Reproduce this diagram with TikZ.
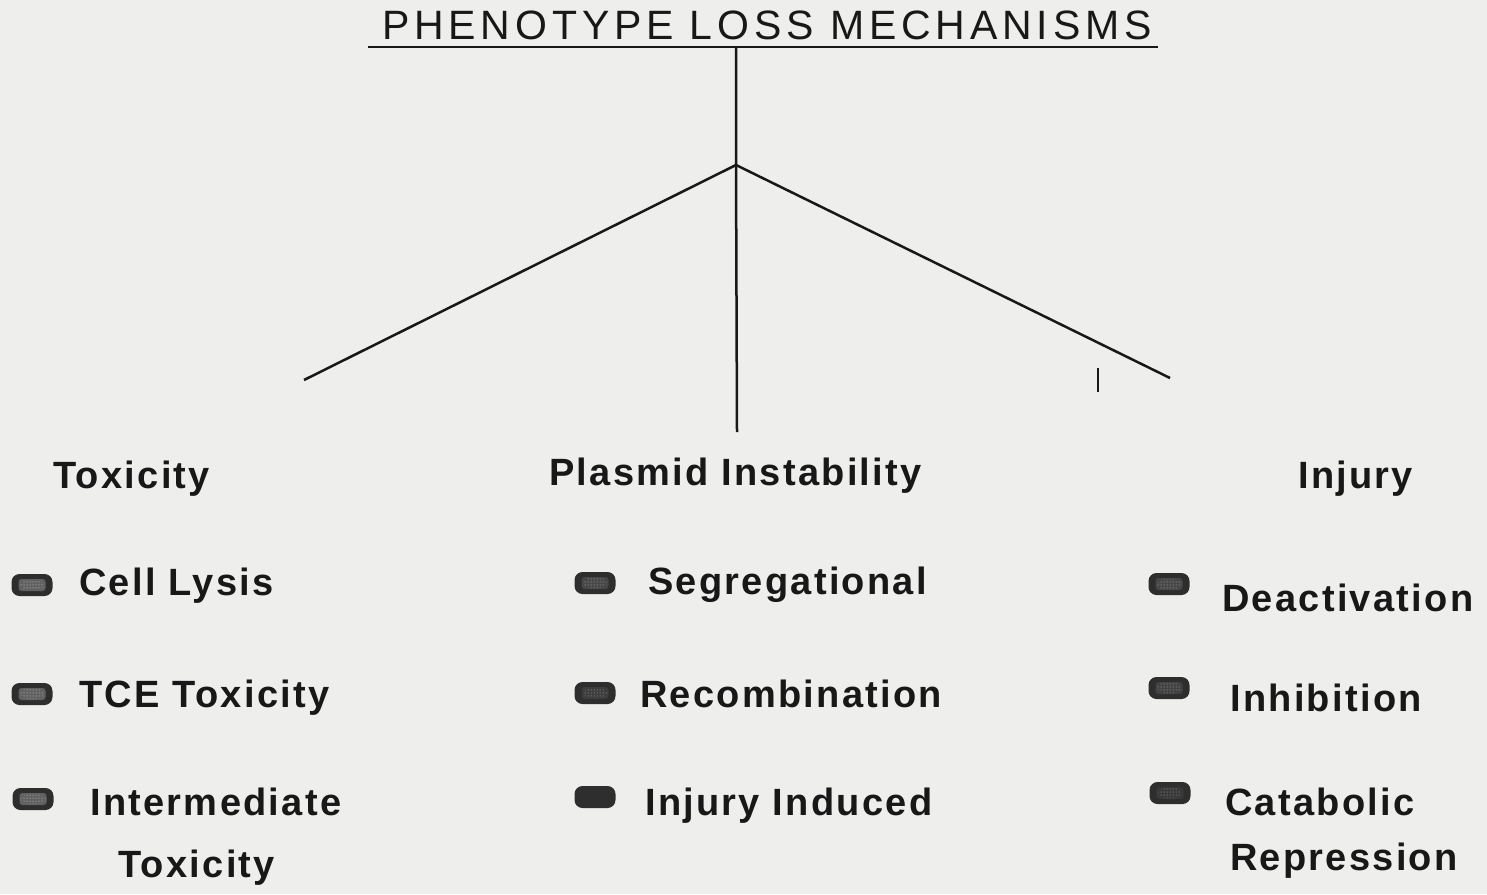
\documentclass[tikz,border=0pt]{standalone}
\usepackage{fontspec}
\setmainfont{Liberation Sans}
\newfontfamily\titlefont[LetterSpace=11.8]{Liberation Sans}
\newfontfamily\bodyfont[LetterSpace=6]{Liberation Sans}
\usetikzlibrary{patterns}
\definecolor{paper}{RGB}{238,238,236}
\definecolor{ink}{RGB}{24,24,24}
\tikzset{
  ttl/.style={anchor=base west, inner sep=0pt, text=ink, font=\titlefont\fontsize{41}{44}\selectfont},
  lbl/.style={anchor=base west, inner sep=0pt, text=ink, font=\bodyfont\bfseries\fontsize{38}{40}\selectfont},
  wire/.style={draw=ink, line width=2.5pt},
  bul/.style 2 args={rectangle, rounded corners=8pt, minimum width=41pt, minimum height=22pt, inner sep=0pt, fill=black!82,
    path picture={
      \fill[#1, rounded corners=3pt] ([xshift=7pt,yshift=5pt]path picture bounding box.south west) rectangle ([xshift=-7pt,yshift=-5pt]path picture bounding box.north east);
      \fill[pattern=dots, pattern color=#2] ([xshift=8pt,yshift=6pt]path picture bounding box.south west) rectangle ([xshift=-8pt,yshift=-6pt]path picture bounding box.north east);}},
}
\begin{document}
\begin{tikzpicture}[x=1pt,y=-1pt]
\fill[paper] (0,0) rectangle (1487,894);
\useasboundingbox (0,0) rectangle (1487,894);

% title and tree
\node[ttl] (title) at (382,39) {PHENOTYPE LOSS MECHANISMS};
\coordinate (ulL) at (368,47);
\coordinate (ulR) at (1158,47);
\coordinate (top) at (736,47);
\coordinate (hub) at (736,165);
\coordinate (legL) at (304,380);
\coordinate (legM) at (737,432);
\coordinate (legR) at (1170,378);
\coordinate (tickA) at (1098,368);
\coordinate (tickB) at (1098,392);
\draw[wire] (ulL) -- (ulR);
\draw[wire] (top) -- (hub) -- (legM);
\draw[wire] (hub) -- (legL);
\draw[wire] (hub) -- (legR);
\draw[draw=ink, line width=1.6pt] (tickA) -- (tickB);

% headings
\node[lbl] (tox) at (53,488) {Toxicity};
\node[lbl] (pla) at (549,485) {Plasmid Instability};
\node[lbl] (inj) at (1298,488) {Injury};

% left column
\node[bul={black!62}{gray!35}] (b1) at (32,585) {};
\node[lbl] (t1) at (79,595) {Cell Lysis};
\node[bul={black!62}{gray!35}] (b2) at (32,694) {};
\node[lbl] (t2) at (79,707) {TCE Toxicity};
\node[bul={black!62}{gray!35}] (b3) at (33,799) {};
\node[lbl] (t3) at (90,815) {Intermediate};
\node[lbl] (t3b) at (118,877) {Toxicity};

% middle column
\node[bul={black!72}{gray!45}] (b4) at (595,583) {};
\node[lbl] (t4) at (648,594) {Segregational};
\node[bul={black!76}{gray!55}] (b5) at (595,693) {};
\node[lbl] (t5) at (640,707) {Recombination};
\node[bul={black!82}{black!82}] (b6) at (595,797) {};
\node[lbl] (t6) at (645,815) {Injury Induced};

% right column
\node[bul={black!72}{gray!45}] (b7) at (1169,584) {};
\node[lbl] (t7) at (1222,611) {Deactivation};
\node[bul={black!74}{gray!50}] (b8) at (1169,688) {};
\node[lbl] (t8) at (1230,711) {Inhibition};
\node[bul={black!78}{gray!55}] (b9) at (1170,793) {};
\node[lbl] (t9) at (1225,815) {Catabolic};
\node[lbl] (t9b) at (1230,870) {Repression};
\end{tikzpicture}
\end{document}
